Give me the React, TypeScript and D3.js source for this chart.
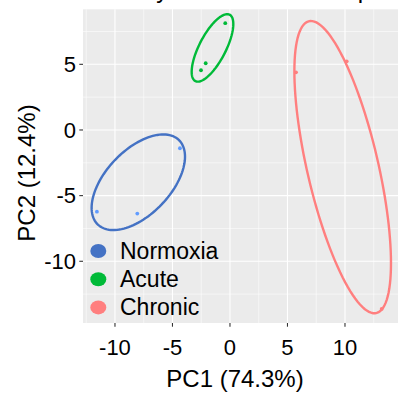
import React from "react";
import * as d3 from "d3";

// ---- data ----
const groups = ["Normoxia", "Acute", "Chronic"];
const sampleGroup = ["Normoxia", "Normoxia", "Normoxia", "Acute", "Acute", "Acute", "Chronic", "Chronic", "Chronic"];
const pc1 = [-11.57, -8.06, -4.35, -0.41, -2.11, -2.52, 5.74, 10.15, 13.19];
const pc2 = [-6.22, -6.37, -1.39, 8.13, 5.08, 4.55, 4.39, 5.23, -13.63];
// ellipse (per group): centre, spread along PC1/PC2 and correlation
const ellCx = [-7.97, -1.52, 9.8];
const ellCy = [-3.98, 6.25, -2.83];
const ellSx = [4.06, 1.81, 4.2];
const ellSy = [3.64, 2.57, 11.13];
const ellRho = [0.535, 0.708, -0.656];
const xTicks = [-10, -5, 0, 5, 10];
const yTicks = [-10, -5, 0, 5];
const xMinor = [-12.5, -7.5, -2.5, 2.5, 7.5, 12.5];
const yMinor = [-12.5, -7.5, -2.5, 2.5, 7.5];
const title = "Similarity between the samples";
const xTitle = "PC1 (74.3%)";
const yTitle = "PC2 (12.4%)";

// ---- style ----
const W = 398, H = 404;
const panel = { left: 83, right: 398, top: 9.3, bottom: 323 };
const lineColors: Record<string, string> = { Normoxia: "#4472C4", Acute: "#00BA38", Chronic: "#FF7F7F" };
const pointColors: Record<string, string> = { Normoxia: "#619CFF", Acute: "#00BA38", Chronic: "#FF7F7F" };
const keyColors: Record<string, string> = { Normoxia: "#4472C4", Acute: "#00BA38", Chronic: "#FF7F7F" };
const font = "Liberation Sans, Arial, sans-serif";

export default function App() {
  const x = d3.scaleLinear().domain([-12.78, 14.61]).range([panel.left, panel.right]);
  const y = d3.scaleLinear().domain([-14.7, 9.19]).range([panel.bottom, panel.top]);

  const ts = d3.range(0, 2 * Math.PI, (2 * Math.PI) / 120);
  const line = d3
    .line<[number, number]>()
    .x((d) => x(d[0]))
    .y((d) => y(d[1]))
    .curve(d3.curveLinearClosed);

  const ellipses = groups.map((g, i) => {
    const pts: [number, number][] = ts.map((t) => [
      ellCx[i] + ellSx[i] * Math.cos(t),
      ellCy[i] + ellSy[i] * (ellRho[i] * Math.cos(t) + Math.sqrt(1 - ellRho[i] * ellRho[i]) * Math.sin(t)),
    ]);
    return { g, d: line(pts) as string };
  });

  return (
    <svg width={W} height={H} style={{ position: "absolute", left: 0, top: 0, background: "#fff" }} fontFamily={font}>
      <text x={71} y={-2} fontSize={24} fill="#000">{title}</text>
      <defs>
        <clipPath id="pclip">
          <rect x={panel.left} y={panel.top} width={panel.right - panel.left} height={panel.bottom - panel.top} />
        </clipPath>
      </defs>
      <rect x={panel.left} y={panel.top} width={panel.right - panel.left} height={panel.bottom - panel.top} fill="#EBEBEB" />
      {xMinor.map((v) => (
        <line key={"xm" + v} x1={x(v)} x2={x(v)} y1={panel.top} y2={panel.bottom} stroke="#fff" strokeWidth={0.55} />
      ))}
      {yMinor.map((v) => (
        <line key={"ym" + v} x1={panel.left} x2={panel.right} y1={y(v)} y2={y(v)} stroke="#fff" strokeWidth={0.55} />
      ))}
      {xTicks.map((v) => (
        <line key={"xM" + v} x1={x(v)} x2={x(v)} y1={panel.top} y2={panel.bottom} stroke="#fff" strokeWidth={1.1} />
      ))}
      {yTicks.map((v) => (
        <line key={"yM" + v} x1={panel.left} x2={panel.right} y1={y(v)} y2={y(v)} stroke="#fff" strokeWidth={1.1} />
      ))}
      <g clipPath="url(#pclip)">
        {pc1.map((v, i) => (
          <circle key={"p" + i} cx={x(v)} cy={y(pc2[i])} r={1.9} fill={pointColors[sampleGroup[i]]} />
        ))}
        {ellipses.map((e) => (
          <path key={e.g} d={e.d} fill="none" stroke={lineColors[e.g]} strokeWidth={2.4} />
        ))}
      </g>
      {/* axes ticks */}
      {xTicks.map((v) => (
        <g key={"xt" + v}>
          <line x1={x(v)} x2={x(v)} y1={panel.bottom} y2={panel.bottom + 3.7} stroke="#333" strokeWidth={1.1} />
          <text x={x(v)} y={355} textAnchor="middle" fontSize={22} fill="#000">
            {v}
          </text>
        </g>
      ))}
      {yTicks.map((v) => (
        <g key={"yt" + v}>
          <line x1={panel.left - 3.7} x2={panel.left} y1={y(v)} y2={y(v)} stroke="#333" strokeWidth={1.1} />
          <text x={76} y={y(v) + 7.8} textAnchor="end" fontSize={22} fill="#000">
            {v}
          </text>
        </g>
      ))}
      <text x={235} y={387} textAnchor="middle" fontSize={24} fill="#000">
        {xTitle}
      </text>
      <text transform={`translate(34.5,173) rotate(-90)`} textAnchor="middle" fontSize={24} fill="#000">
        {yTitle}
      </text>
      {/* legend */}
      {groups.map((g, i) => (
        <g key={"lg" + g}>
          <ellipse cx={98.3} cy={251 + i * 28.2} rx={8} ry={7} fill={keyColors[g]} />
          <text x={120} y={251 + i * 28.2 + 8} fontSize={23} fill="#000">
            {g}
          </text>
        </g>
      ))}
    </svg>
  );
}
